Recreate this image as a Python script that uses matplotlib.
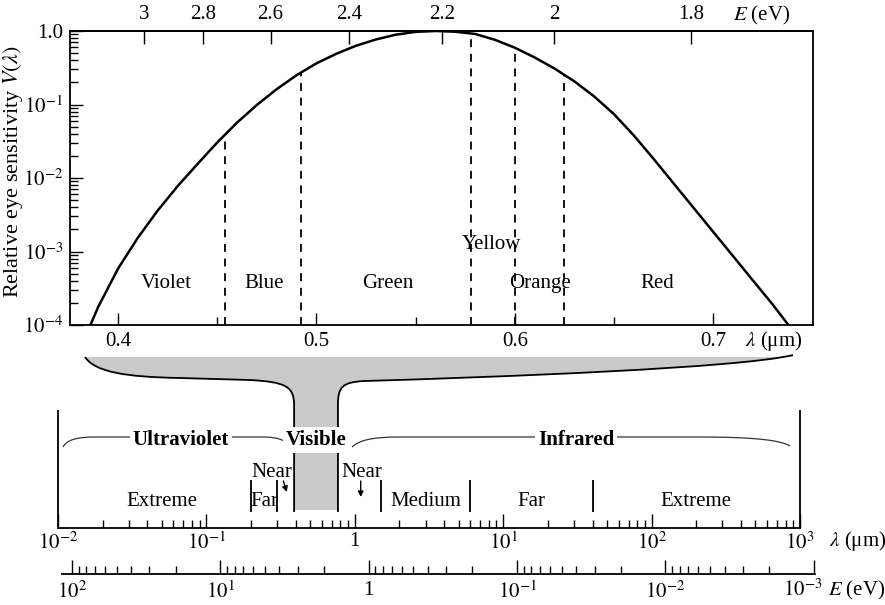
import numpy as np
import matplotlib.pyplot as plt
from matplotlib.path import Path
from matplotlib.patches import PathPatch
from matplotlib.ticker import LogLocator, NullFormatter, NullLocator

plt.rcParams['font.family'] = ['Liberation Serif', 'DejaVu Serif']
plt.rcParams['mathtext.fontset'] = 'stix'
plt.rcParams['font.size'] = 15
plt.rcParams['axes.linewidth'] = 1.3

W, H = 885, 605

# ---- relative eye sensitivity ----
wl = [0.386, 0.39, 0.40, 0.41, 0.42, 0.43, 0.44, 0.45, 0.46, 0.47, 0.48, 0.49,
      0.50, 0.51, 0.52, 0.53, 0.54, 0.55, 0.56, 0.57, 0.58, 0.59, 0.60, 0.61,
      0.62, 0.63, 0.64, 0.65, 0.66, 0.67, 0.68, 0.69, 0.70, 0.71, 0.72, 0.73, 0.738]
V = [1.0e-4, 1.78e-4, 5.89e-4, 1.55e-3, 3.63e-3, 7.76e-3, 0.0155, 0.0305, 0.0569, 0.0989, 0.162, 0.251,
     0.363, 0.490, 0.631, 0.767, 0.891, 0.973, 1.0, 0.977, 0.912, 0.759, 0.593, 0.437,
     0.309, 0.207, 0.129, 0.0741, 0.0380, 0.0182, 0.00851, 0.00398, 0.00186, 8.71e-4, 4.07e-4, 1.91e-4, 1.0e-4]

# colour bands (um)
band_edges = [0.454, 0.492, 0.578, 0.600, 0.625]
band_names = ['Violet', 'Blue', 'Green', 'Yellow', 'Orange', 'Red']
band_label_x = [0.424, 0.4735, 0.536, 0.588, 0.6125, 0.672]
band_label_y = [3.2e-4, 3.2e-4, 3.2e-4, 1.07e-3, 3.2e-4, 3.2e-4]

lam_ticks = [0.4, 0.5, 0.6, 0.7]
lam_minor = [0.45, 0.55, 0.65]
e_top = [3, 2.8, 2.6, 2.4, 2.2, 2, 1.8]
e_top_labels = ['3', '2.8', '2.6', '2.4', '2.2', '2', '1.8']
v_ticks = [1e-4, 1e-3, 1e-2, 1e-1, 1]
v_labels = [r'$10^{-4}$', r'$10^{-3}$', r'$10^{-2}$', r'$10^{-1}$', '1.0']

# full spectrum (um)
visible = (0.39, 0.77)
sub_edges = [0.2, 0.3, 1.5, 6, 40]
sub_names = ['Extreme', 'Far', 'Medium', 'Far', 'Extreme']
sub_x = [0.05, 0.245, 3.0, 15.5, 200]
near_x = [0.275, 1.11]
near_arrow = [((0.33, 47), (0.348, 36)), ((1.096, 47), (1.096, 31))]
big_names = ['Ultraviolet', 'Visible', 'Infrared']
big_x = [0.0675, 0.55, 31]
spec_ticks = [1e-2, 1e-1, 1, 1e1, 1e2, 1e3]
spec_labels = [r'$10^{-2}$', r'$10^{-1}$', '1', r'$10^{1}$', r'$10^{2}$', r'$10^{3}$']
e_ticks = [1e2, 1e1, 1, 1e-1, 1e-2, 1e-3]
e_labels = [r'$10^{2}$', r'$10^{1}$', '1', r'$10^{-1}$', r'$10^{-2}$', '']
HC = 1.2398  # eV um


def lam_to_e(x):
    x = np.asarray(x, dtype=float)
    with np.errstate(divide='ignore'):
        return HC / x


def box(x0, y0, x1, y1):
    return [x0 / W, 1 - y1 / H, (x1 - x0) / W, (y1 - y0) / H]


fig = plt.figure(figsize=(W / 100, H / 100), dpi=100)

# overlay in pixel units for the funnel and braces
ov = fig.add_axes([0, 0, 1, 1])
ov.set_xlim(0, W)
ov.set_ylim(H, 0)
ov.axis('off')

ax = fig.add_axes(box(70, 31, 813, 325))
ax2 = fig.add_axes(box(58, 345, 800, 528))
ax3 = fig.add_axes(box(62, 540, 815, 574))

# ===== top panel =====
ax.plot(wl, V, color='k', lw=1.8)
ax.set_yscale('log')
ax.set_xlim(0.3757, 0.7504)
ax.set_ylim(1e-4, 1)
tops = 10 ** np.interp(band_edges, wl, np.log10(V))
ax.vlines(band_edges, 1e-4, tops, colors='k', lw=1.3, linestyles=[(0, (4.4, 3.7))])
for name, x, y in zip(band_names, band_label_x, band_label_y):
    ax.text(x, y, name, ha='center', va='baseline')

ax.set_xticks(lam_ticks, labels=['0.4', '0.5', '0.6', '0.7'])
ax.set_xticks(lam_minor, minor=True)
ax.set_yticks(v_ticks, labels=v_labels)
ax.yaxis.set_minor_locator(LogLocator(base=10, subs=np.arange(2, 10), numticks=50))
ax.yaxis.set_minor_formatter(NullFormatter())
ax.tick_params(which='both', direction='in', top=False, right=False, width=1)
ax.tick_params(which='major', length=9, pad=5)
ax.tick_params(which='minor', length=6)

sec = ax.secondary_xaxis('top', functions=(lam_to_e, lam_to_e))
sec.set_xticks(e_top, labels=e_top_labels)
sec.xaxis.set_minor_locator(NullLocator())
sec.tick_params(direction='in', length=9, width=1, pad=5)

fig.text(774 / W, 1 - 341 / H, r'$\lambda$ (μm)', ha='center', va='center')
fig.text(762 / W, 1 - 15 / H, r'$E$ (eV)', ha='center', va='center')
fig.text(13 / W, 1 - 172 / H, r'Relative eye sensitivity $V(\lambda)$',
         rotation=90, ha='center', va='center', fontsize=16)

# ===== spectrum axis =====
ax2.set_xscale('log')
ax2.set_xlim(1e-2, 1e3)
ax2.set_ylim(0, 183)
ax2.patch.set_visible(False)
for s in ['top', 'left', 'right']:
    ax2.spines[s].set_visible(False)
ax2.set_yticks([])
ax2.set_xticks(spec_ticks, labels=spec_labels)
ax2.xaxis.set_minor_locator(LogLocator(base=10, subs=np.arange(2, 10), numticks=50))
ax2.xaxis.set_minor_formatter(NullFormatter())
ax2.tick_params(axis='x', which='major', direction='in', length=10, width=1, pad=3)
ax2.tick_params(axis='x', which='minor', direction='in', length=5.5, width=1)

ax2.vlines([spec_ticks[0], spec_ticks[-1]], 0, 118, colors='k', lw=1.3, clip_on=False)
ax2.vlines(sub_edges, 16, 48, colors='k', lw=1.3)
for name, x in zip(sub_names, sub_x):
    ax2.text(x, 22, name, ha='center', va='baseline')
for x, (tail, tip) in zip(near_x, near_arrow):
    ax2.text(x, 51, 'Near', ha='center', va='baseline')
    ax2.annotate('', xy=tip, xytext=tail,
                 arrowprops=dict(arrowstyle='-|>', lw=1, color='k', mutation_scale=8,
                                 shrinkA=0, shrinkB=0))
for name, x in zip(big_names, big_x):
    ax2.text(x, 83, name, ha='center', va='baseline', fontweight='bold',
             bbox=dict(facecolor='white', edgecolor='none', pad=2))

# energy axis
ax3.set_xscale('log')


def px_to_lam(xp):
    d = ov.transData.transform((xp, 0))
    return ax2.transData.inverted().transform(d)[0]


ax3.set_xlim(HC / px_to_lam(62), HC / px_to_lam(815))
ax3.patch.set_visible(False)
for s in ['top', 'left', 'right']:
    ax3.spines[s].set_visible(False)
ax3.set_yticks([])
ax3.set_xticks(e_ticks, labels=e_labels)
ax3.xaxis.set_minor_locator(LogLocator(base=10, subs=np.arange(2, 10), numticks=50))
ax3.xaxis.set_minor_formatter(NullFormatter())
ax3.tick_params(axis='x', which='major', direction='in', length=10, width=1, pad=5)
ax3.tick_params(axis='x', which='minor', direction='in', length=6, width=1)
# last energy label is nudged left to make room for the unit
fig.text(803 / W, 1 - 590 / H, r'$10^{-3}$', ha='center', va='center')

fig.text(858 / W, 1 - 541 / H, r'$\lambda$ (μm)', ha='center', va='center')
fig.text(857 / W, 1 - 590 / H, r'$E$ (eV)', ha='center', va='center')

# ===== funnel from the visible band up to the top panel =====
def lam_px(lam):
    d = ax2.transData.transform((lam, 0))
    return ov.transData.inverted().transform(d)[0]


xl, xr = lam_px(visible[0]), lam_px(visible[1])
M, C, L = Path.MOVETO, Path.CURVE4, Path.LINETO
left_v = [(85, 357), (95, 372), (125, 377), (180, 378), (250, 380),
          (285, 382), (xl, 386), (xl, 405)]
left_c = [M, C, C, C, L, C, C, C]
right_v = [(xr, 405), (xr, 387), (342, 382), (365, 381), (500, 377), (740, 368), (793, 355)]
right_c = [M, C, C, C, C, C, C]

fill_v = left_v + [(xl, 510), (xr, 510)] + right_v + [(793, 357), (85, 357), (85, 357)]
fill_c = left_c + [L, L] + [L] + right_c[1:] + [L, L, Path.CLOSEPOLY]
ov.add_patch(PathPatch(Path(fill_v, fill_c), facecolor='#c9c9c9', edgecolor='none'))
ov.add_patch(PathPatch(Path(left_v + [(xl, 512)], left_c + [L]),
                       facecolor='none', edgecolor='k', lw=1.3))
ov.add_patch(PathPatch(Path([(xr, 512)] + right_v, [M, L] + right_c[1:]),
                       facecolor='none', edgecolor='k', lw=1.3))

# braces
brace_l = [(63, 447), (67, 440), (76, 437), (95, 437), (262, 437),
           (280, 437), (286, 441), (291, 447)]
brace_r = [(352, 447), (360, 440), (372, 437), (400, 437), (700, 437),
           (760, 437), (782, 441), (790, 446)]
bc = [M, C, C, C, L, C, C, C]
for pts in (brace_l, brace_r):
    ov.add_patch(PathPatch(Path(pts, bc), facecolor='none', edgecolor='#333333', lw=0.9))

fig.savefig('out.png', dpi=100)
